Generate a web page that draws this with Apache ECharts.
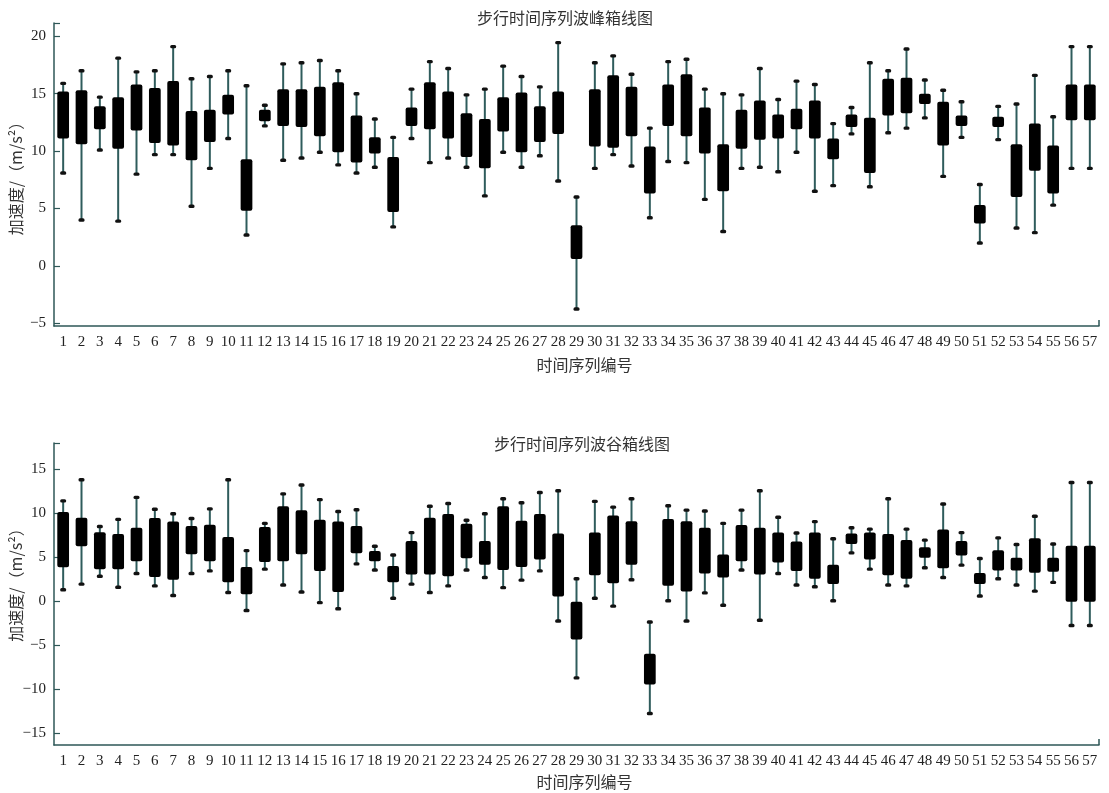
<!DOCTYPE html>
<html>
<head>
<meta charset="utf-8">
<script src="https://cdn.jsdelivr.net/npm/echarts@6/dist/echarts.min.js"></script>
<style>html,body{margin:0;padding:0;background:#fff}#c{width:1109px;height:793px}</style>
</head>
<body>
<div id="c"></div>
<script>
// ---- data ----
const categories = Array.from({length: 57}, (_, i) => String(i + 1));

// Peak (波峰) box plot: whisker min, lower quartile, upper quartile, whisker max
const peakMin = [8.1,4.0,10.1,3.9,8.0,9.7,9.7,5.2,8.5,11.1,2.7,12.2,9.2,9.4,9.9,8.8,8.1,8.6,3.4,11.1,9.0,9.4,8.6,6.1,9.9,8.6,9.6,7.4,-3.75,8.5,9.7,8.7,4.2,9.1,9.0,5.8,3.0,8.5,8.6,8.2,9.9,6.5,7.0,11.5,6.9,11.6,12.0,12.9,7.8,11.2,2.0,11.0,3.3,2.9,5.3,8.5,8.5];
const peakQ1  = [11.1,10.6,11.9,10.2,11.8,10.7,10.5,9.2,10.8,13.2,4.8,12.6,12.2,12.1,11.3,9.9,9.0,9.8,4.7,12.2,11.9,11.1,9.5,8.5,11.7,9.9,10.8,11.5,0.6,10.4,10.3,11.3,6.3,12.2,11.3,9.8,6.5,10.2,11.0,11.1,11.9,11.1,9.3,12.1,8.1,13.1,13.3,14.1,10.5,12.2,3.7,12.1,6.0,8.3,6.3,12.7,12.7];
const peakQ3  = [15.2,15.3,13.9,14.7,15.8,15.5,16.1,13.5,13.6,14.9,9.3,13.6,15.4,15.4,15.6,16.0,13.1,11.2,9.5,13.8,16.0,15.2,13.3,12.8,14.7,15.1,13.9,15.2,3.55,15.4,16.6,15.6,10.4,15.8,16.7,13.8,10.6,13.6,14.4,13.2,13.7,14.4,11.1,13.2,12.9,16.3,16.4,15.0,14.3,13.1,5.3,13.0,10.6,12.4,10.5,15.8,15.8];
const peakMax = [15.9,17.0,14.7,18.1,16.9,17.0,19.1,16.3,16.5,17.0,15.7,14.0,17.6,17.7,17.9,17.0,15.0,12.8,11.2,15.4,17.8,17.2,14.9,15.4,17.4,16.5,15.6,19.45,6.0,17.7,18.3,16.7,12.0,17.8,18.0,15.4,15.0,14.9,17.2,14.5,16.1,15.8,12.4,13.8,17.7,17.0,18.9,16.2,15.3,14.3,7.1,13.9,14.1,16.6,13.0,19.1,19.1];

// Valley (波谷) box plot
const valleyMin = [1.25,1.9,2.8,1.55,3.1,1.7,0.6,3.1,3.4,0.95,-1.1,3.6,1.8,1.0,-0.2,-0.9,4.2,3.5,0.3,1.9,0.95,1.7,3.5,2.65,1.5,2.35,3.4,-2.3,-8.75,0.3,-0.6,2.4,-12.8,0.0,-2.3,0.9,-0.5,3.5,-2.2,3.1,1.8,1.6,0.0,5.45,3.6,1.8,1.7,3.75,2.65,4.05,0.55,2.5,1.8,1.1,2.1,-2.8,-2.8];
const valleyQ1  = [3.8,6.2,3.6,3.6,4.5,2.7,2.4,5.3,4.5,2.1,0.75,4.4,4.5,5.3,3.4,1.0,5.4,4.5,2.1,3.0,3.0,2.8,4.85,4.1,3.5,3.85,4.7,0.5,-4.4,2.9,2.0,4.1,-9.5,1.7,1.05,3.1,2.65,4.5,3.0,4.35,3.4,2.5,1.9,6.45,4.7,2.9,2.5,4.9,3.7,5.15,1.9,3.45,3.45,3.2,3.3,-0.1,-0.1];
const valleyQ3  = [10.1,9.45,7.8,7.6,8.3,9.4,9.0,8.5,8.65,7.25,3.85,8.4,10.75,10.3,9.2,9.0,8.5,5.65,3.95,6.8,9.45,9.85,8.75,6.8,10.75,9.1,9.85,7.65,-0.1,7.75,9.7,9.05,-6.0,9.3,9.05,8.3,5.25,8.6,8.3,7.75,6.75,7.75,4.1,7.65,7.75,7.6,6.9,6.1,8.1,6.8,3.15,5.75,4.9,7.1,4.9,6.25,6.25];
const valleyMax = [11.35,13.75,8.45,9.25,11.75,10.4,9.9,9.35,10.45,13.75,5.7,8.8,12.15,13.15,11.5,10.15,10.35,6.2,5.2,7.75,10.75,11.05,9.15,9.9,11.6,11.15,12.3,12.5,2.5,11.3,10.65,11.6,-2.4,10.8,10.3,10.2,8.8,10.3,12.5,9.5,7.7,9.0,7.05,8.3,8.15,11.6,8.15,6.9,11.0,7.75,4.8,7.15,6.4,9.6,6.45,13.45,13.45];

const peakTicks = [-5, 0, 5, 10, 15, 20];
const valleyTicks = [-15, -10, -5, 0, 5, 10, 15];

// ---- styles ----
const AXIS = '#2e5757';
const WHISK = '#2f5c5c';
const SERIF = '"Liberation Serif", "Noto Sans CJK SC", serif';
const CJK = '"Noto Sans CJK SC", "Liberation Serif", serif';

function rows(mins, q1s, q3s, maxs) {
  return categories.map((c, i) => [i, mins[i], q1s[i], q3s[i], maxs[i]]);
}

function renderBox(params, api) {
  const x = api.value(0);
  const lo = api.coord([x, api.value(1)]);
  const q1 = api.coord([x, api.value(2)]);
  const q3 = api.coord([x, api.value(3)]);
  const hi = api.coord([x, api.value(4)]);
  const band = api.size([1, 0])[0];
  const bw = band * 0.64;
  const cw = 6, ch = 3.4;
  return {
    type: 'group',
    children: [
      { type: 'line', shape: { x1: hi[0], y1: hi[1], x2: lo[0], y2: lo[1] },
        style: { stroke: WHISK, lineWidth: 2 } },
      { type: 'rect', shape: { x: hi[0] - cw / 2, y: hi[1] - ch / 2, width: cw, height: ch, r: 1.5 },
        style: { fill: '#111' } },
      { type: 'rect', shape: { x: lo[0] - cw / 2, y: lo[1] - ch / 2, width: cw, height: ch, r: 1.5 },
        style: { fill: '#111' } },
      { type: 'rect', shape: { x: q3[0] - bw / 2, y: q3[1], width: bw, height: q1[1] - q3[1], r: 2 },
        style: { fill: '#000' } }
    ]
  };
}

function fmt(v) { return v < 0 ? '\u2212' + Math.abs(v) : String(v); }

function xAxisCfg(gridIndex, gap) {
  return {
    type: 'category', gridIndex, data: categories, position: 'bottom',
    name: '时间序列编号', nameLocation: 'middle', nameGap: gap, nameMoveOverlap: false,
    nameTextStyle: { fontFamily: CJK, fontSize: 16, color: '#333', padding: [0, 0, 0, 16] },
    axisLine: { onZero: false, lineStyle: { color: AXIS, width: 1.5 } },
    axisTick: { alignWithLabel: true, inside: true, length: 6, lineStyle: { color: '#222', width: 1.2 } },
    axisLabel: { interval: 0, margin: 9, fontFamily: SERIF, fontSize: 15, color: '#222' },
    splitLine: { show: false }
  };
}

// invisible helper axis that only draws the end tick at the right end of the x axis
function endTickAxis(gridIndex) {
  return {
    type: 'value', gridIndex, min: 0, max: 1, position: 'bottom',
    axisLine: { show: false, onZero: false },
    axisTick: { show: true, inside: true, length: 6, customValues: [1], lineStyle: { color: AXIS, width: 1.5 } },
    axisLabel: { show: false },
    splitLine: { show: false }
  };
}

function yAxisCfg(gridIndex, min, max, ticks, pad) {
  return {
    type: 'value', gridIndex, min, max,
    name: '加速度/（m/s²）', nameLocation: 'middle', nameGap: 30, nameRotate: 90, nameMoveOverlap: false,
    nameTextStyle: { fontFamily: CJK, fontSize: 16, color: '#333', padding: pad },
    axisLine: { show: true, onZero: false, lineStyle: { color: AXIS, width: 1.5 } },
    axisTick: { show: true, inside: true, length: 6, customValues: ticks.concat([max]), lineStyle: { color: AXIS, width: 1.2 } },
    axisLabel: { customValues: ticks, formatter: fmt, margin: 8, fontFamily: SERIF, fontSize: 15, color: '#222' },
    splitLine: { show: false }
  };
}

const chart = echarts.init(document.getElementById('c'), null, { renderer: 'canvas' });
chart.setOption({
  animation: false,
  backgroundColor: '#fff',
  title: [
    { text: '步行时间序列波峰箱线图', left: 560, top: 5, textAlign: 'center',
      textStyle: { fontFamily: CJK, fontSize: 16, fontWeight: 'normal', color: '#333' } },
    { text: '步行时间序列波谷箱线图', left: 577, top: 431, textAlign: 'center',
      textStyle: { fontFamily: CJK, fontSize: 16, fontWeight: 'normal', color: '#333' } }
  ],
  grid: [
    { left: 54, top: 23, width: 1045, height: 303, containLabel: false, outerBoundsMode: 'none' },
    { left: 54, top: 443, width: 1045, height: 302, containLabel: false, outerBoundsMode: 'none' }
  ],
  xAxis: [xAxisCfg(0, 31), xAxisCfg(1, 29), endTickAxis(0), endTickAxis(1)],
  yAxis: [yAxisCfg(0, -5.23, 21.16, peakTicks, [0, 0, 0, 0]), yAxisCfg(1, -16.38, 17.93, valleyTicks, [0, 0, 0, 26])],
  series: [
    { type: 'custom', xAxisIndex: 0, yAxisIndex: 0, renderItem: renderBox,
      encode: { x: 0, y: [1, 2, 3, 4] }, data: rows(peakMin, peakQ1, peakQ3, peakMax) },
    { type: 'custom', xAxisIndex: 1, yAxisIndex: 1, renderItem: renderBox,
      encode: { x: 0, y: [1, 2, 3, 4] }, data: rows(valleyMin, valleyQ1, valleyQ3, valleyMax) }
  ]
});
</script>
</body>
</html>
